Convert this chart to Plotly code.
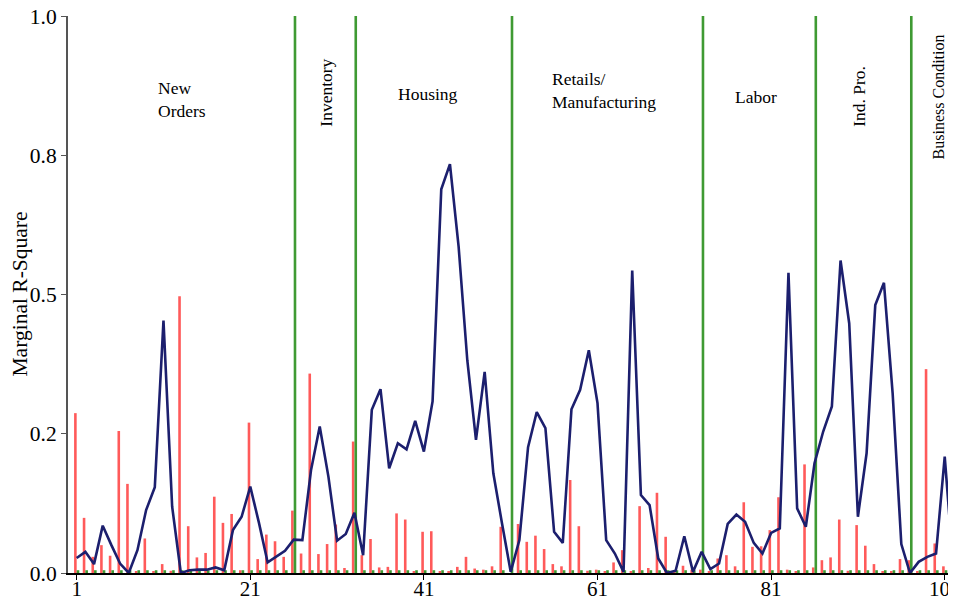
import plotly.graph_objects as go

# indices of predictors
idx = list(range(1, 103))

# marginal R-square of the combined model (line)
line_vals = [
    0.027, 0.038, 0.016, 0.085, 0.050, 0.017, 0.000, 0.041, 0.113, 0.154,
    0.453, 0.119, 0.000, 0.005, 0.006, 0.006, 0.010, 0.005, 0.077, 0.101,
    0.155, 0.090, 0.019, 0.029, 0.040, 0.060, 0.059, 0.185, 0.263, 0.173,
    0.058, 0.070, 0.108, 0.032, 0.293, 0.330, 0.188, 0.233, 0.222, 0.273,
    0.218, 0.308, 0.689, 0.734, 0.586, 0.382, 0.239, 0.361, 0.179, 0.089,
    0.002, 0.059, 0.226, 0.289, 0.260, 0.074, 0.054, 0.294, 0.329, 0.400,
    0.305, 0.059, 0.035, 0.002, 0.543, 0.140, 0.122, 0.026, 0.000, 0.004,
    0.066, 0.002, 0.038, 0.007, 0.017, 0.088, 0.105, 0.092, 0.054, 0.035,
    0.072, 0.080, 0.539, 0.116, 0.083, 0.197, 0.254, 0.299, 0.561, 0.448,
    0.101, 0.215, 0.481, 0.521, 0.323, 0.052, 0.000, 0.020, 0.029, 0.035,
    0.209, 0.008,
]

# red bars
red_vals = [
    0.287, 0.099, 0.029, 0.050, 0.031, 0.255, 0.160, 0.003, 0.062, 0.003,
    0.016, 0.004, 0.497, 0.084, 0.028, 0.036, 0.137, 0.090, 0.106, 0.005,
    0.270, 0.025, 0.069, 0.057, 0.029, 0.112, 0.035, 0.358, 0.034, 0.052,
    0.087, 0.009, 0.236, 0.032, 0.061, 0.010, 0.011, 0.107, 0.096, 0.002,
    0.074, 0.075, 0.002, 0.002, 0.011, 0.029, 0.008, 0.006, 0.012, 0.083,
    0.000, 0.088, 0.056, 0.067, 0.043, 0.016, 0.012, 0.167, 0.084, 0.004,
    0.006, 0.002, 0.019, 0.041, 0.002, 0.120, 0.009, 0.144, 0.065, 0.002,
    0.013, 0.006, 0.006, 0.002, 0.026, 0.032, 0.012, 0.127, 0.047, 0.048,
    0.077, 0.136, 0.006, 0.003, 0.195, 0.010, 0.023, 0.028, 0.096, 0.004,
    0.086, 0.049, 0.016, 0.002, 0.002, 0.025, 0.023, 0.003, 0.366, 0.053,
    0.012, 0.143,
]

# green bars: group dividers at 1.0, tiny values elsewhere
divider_idx = [26, 33, 51, 73, 86, 97]
green_vals = [1.0 if i in divider_idx else 0.005 for i in idx]

x_ticks = [1, 21, 41, 61, 81, 101]
y_ticks = [0, 0.25, 0.5, 0.75, 1.0]
y_ticktext = ["0.0", "0.2", "0.5", "0.8", "1.0"]

groups = [
    ("New<br>Orders", 10.1, 0.85, 0, "left", 17.5),
    ("Inventory", 29.7, 0.862, -90, "center", 17.5),
    ("Housing", 41.5, 0.86, 0, "center", 17.5),
    ("Retails/<br>Manufacturing", 55.5, 0.867, 0, "left", 17.5),
    ("Labor", 79.3, 0.855, 0, "center", 17.5),
    ("Ind. Pro.", 91.2, 0.856, -90, "center", 17.5),
    ("Business Condition", 100.3, 0.855, -90, "center", 16),
]

FONT = "Liberation Serif, Times New Roman, serif"

fig = go.Figure()
fig.add_trace(go.Bar(x=idx, y=red_vals, marker=dict(color="#ff5a5a", line=dict(width=0)),
                     showlegend=False))
fig.add_trace(go.Bar(x=idx, y=green_vals, marker=dict(color="#3f9a33", line=dict(width=0)),
                     showlegend=False))
fig.add_trace(go.Scatter(x=idx, y=line_vals, mode="lines",
                         line=dict(color="#1c1f6e", width=2.6), showlegend=False))

annotations = []
for text, gx, gy, ang, anchor, size in groups:
    annotations.append(dict(
        text=text, x=gx, y=gy, xref="x", yref="y", showarrow=False,
        textangle=ang, xanchor=anchor, yanchor="middle", align="left",
        font=dict(family=FONT, size=size, color="black"),
    ))
annotations.append(dict(
    text="Marginal R-Square", x=0, y=0.5, xref="paper", yref="paper",
    xshift=-49, showarrow=False, textangle=-90, xanchor="center", yanchor="middle",
    font=dict(family=FONT, size=21.5, color="black"),
))

fig.update_layout(
    width=948, height=595,
    margin=dict(l=60, r=0, t=8, b=30, autoexpand=False),
    paper_bgcolor="white", plot_bgcolor="white",
    barmode="group", bargap=0.4, bargroupgap=0,
    annotations=annotations,
    font=dict(family=FONT, size=21.5, color="black"),
    xaxis=dict(
        range=[0, 102.3], tickvals=x_ticks, ticks="outside", ticklen=5,
        tickcolor="black", showgrid=False, zeroline=False, automargin=False,
        showline=True, linecolor="black", linewidth=2, ticklabelstandoff=-9,
        ticklabeloverflow="allow",
        tickfont=dict(family=FONT, size=21, color="black"),
    ),
    yaxis=dict(
        range=[0, 1.0], tickvals=y_ticks, ticktext=y_ticktext, ticks="outside",
        ticklen=5, tickcolor="#555555", showgrid=False, zeroline=False, automargin=False,
        showline=True, linecolor="#555555", linewidth=2, ticklabeloverflow="allow",
        tickfont=dict(family=FONT, size=21.5, color="black"),
    ),
)

fig.write_html("out.html")
